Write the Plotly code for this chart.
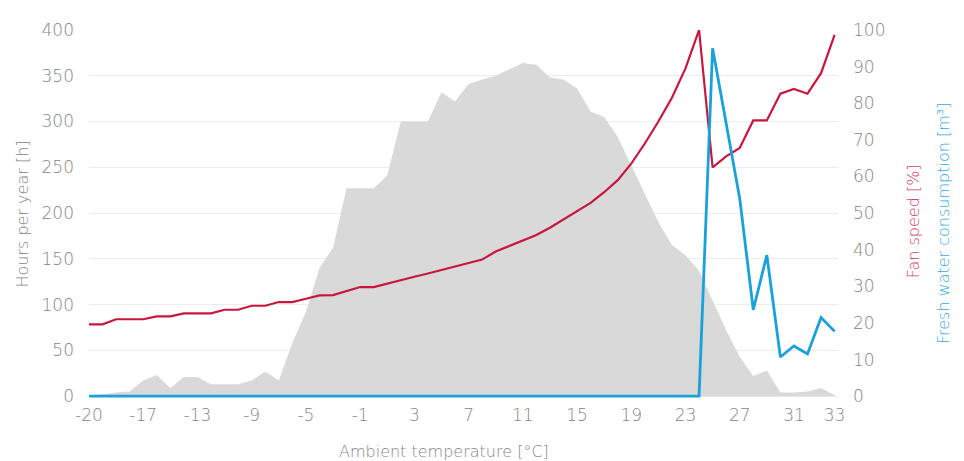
import plotly.graph_objects as go

# Ambient temperature bins (°C)
temperature = list(range(-21, 35))

# Hours per year [h] (grey area, left axis)
hours = [1, 2, 4, 5, 17, 23, 9, 21, 21, 13,
         13, 13, 17, 27, 17, 58, 92, 140, 162, 227,
         227, 227, 241, 300, 300, 300, 332, 322, 341, 346,
         350, 357, 364, 362, 348, 346, 336, 311, 305, 283,
         252, 222, 190, 165, 154, 137, 104, 72, 43, 22,
         28, 4, 4, 5, 9, 1]

# Fan speed [%] (red line, right axis)
fan_speed = [19.6, 19.6, 21.0, 21.0, 21.0, 21.8, 21.8, 22.6, 22.6, 22.6,
             23.6, 23.6, 24.7, 24.7, 25.7, 25.7, 26.6, 27.5, 27.6, 28.6,
             29.8, 29.8, 30.8, 31.8, 32.6, 33.5, 34.4, 35.3, 36.2, 37.3,
             39.5, 41.0, 42.5, 44.0, 46.0, 48.3, 50.6, 52.8, 55.7, 59.0,
             63.5, 69.0, 75.0, 81.5, 89.5, 100.0, 62.5, 65.5, 67.8, 75.3,
             75.3, 82.6, 83.9, 82.6, 88.2, 98.7]

# Fresh water consumption [m³] (blue line, right axis)
water = [0] * 46 + [95, 74, 54, 23.6, 38.5, 10.7, 13.7, 11.5, 21.5, 17.7]

x_tick_vals = [-21, -17, -13, -9, -5, -1, 3, 7, 11, 15, 19, 23, 27, 31, 34]
x_tick_text = ["-20", "-17", "-13", "-9", "-5", "-1", "3", "7", "11", "15",
               "19", "23", "27", "31", "33"]
left_ticks = [0, 50, 100, 150, 200, 250, 300, 350, 400]
right_ticks = [0, 10, 20, 30, 40, 50, 60, 70, 80, 90, 100]

assert len(hours) == len(temperature) == len(fan_speed) == len(water)

FONT = "DejaVu Sans"
GREY = "#858585"
RED = "#c8173f"
BLUE = "#1ba1da"

fig = go.Figure()
fig.add_trace(go.Scatter(
    x=temperature, y=hours, mode="lines", fill="tozeroy",
    line=dict(width=0, color="#d9d9d9"), fillcolor="#d9d9d9",
    hoverinfo="skip", showlegend=False))
fig.add_trace(go.Scatter(
    x=temperature, y=fan_speed, mode="lines", yaxis="y2",
    line=dict(width=2.2, color=RED), showlegend=False))
fig.add_trace(go.Scatter(
    x=temperature, y=water, mode="lines", yaxis="y2",
    line=dict(width=2.8, color=BLUE), showlegend=False))

tickfont = dict(family=FONT, size=17, color=GREY, weight=200)
titlefont = dict(family=FONT, size=16, color=GREY, weight=200)

# The page body adds an 8 px offset, so the figure is 8 px smaller and margins shifted.
fig.update_layout(
    width=956, height=453,
    margin=dict(l=81, r=126, t=17, b=63),
    plot_bgcolor="white", paper_bgcolor="white",
    showlegend=False,
    xaxis=dict(range=[-21, 34.25], tickvals=x_tick_vals, ticktext=x_tick_text,
               showgrid=False, zeroline=False, showline=False, ticks="",
               tickfont=tickfont, ticklabelstandoff=5),
    yaxis=dict(range=[-2, 400], tickvals=left_ticks, showgrid=True,
               gridcolor="#ececec", gridwidth=1, zeroline=False, showline=False,
               ticks="", tickfont=tickfont, ticklabelstandoff=14,
               title=dict(text="Hours per year [h]", standoff=8, font=titlefont)),
    yaxis2=dict(range=[-0.5, 100], tickvals=right_ticks, overlaying="y", side="right",
                showgrid=False, zeroline=False, showline=False, ticks="",
                tickfont=tickfont, ticklabelstandoff=14),
    annotations=[
        dict(text="Ambient temperature [°C]", xref="paper", yref="paper",
             x=0.474, y=-0.145, xanchor="center", yanchor="middle", showarrow=False,
             font=titlefont),
        dict(text="Fan speed [%]", xref="paper", yref="paper",
             x=1.100, y=0.48, xanchor="center", yanchor="middle", showarrow=False,
             textangle=-90, font=dict(family=FONT, size=16, color="#d0435f", weight=200)),
        dict(text="Fresh water consumption [m³]", xref="paper", yref="paper",
             x=1.140, y=0.475, xanchor="center", yanchor="middle", showarrow=False,
             textangle=-90, font=dict(family=FONT, size=16, color="#3aa9dd", weight=200)),
    ],
)

fig.write_html("out.html")
